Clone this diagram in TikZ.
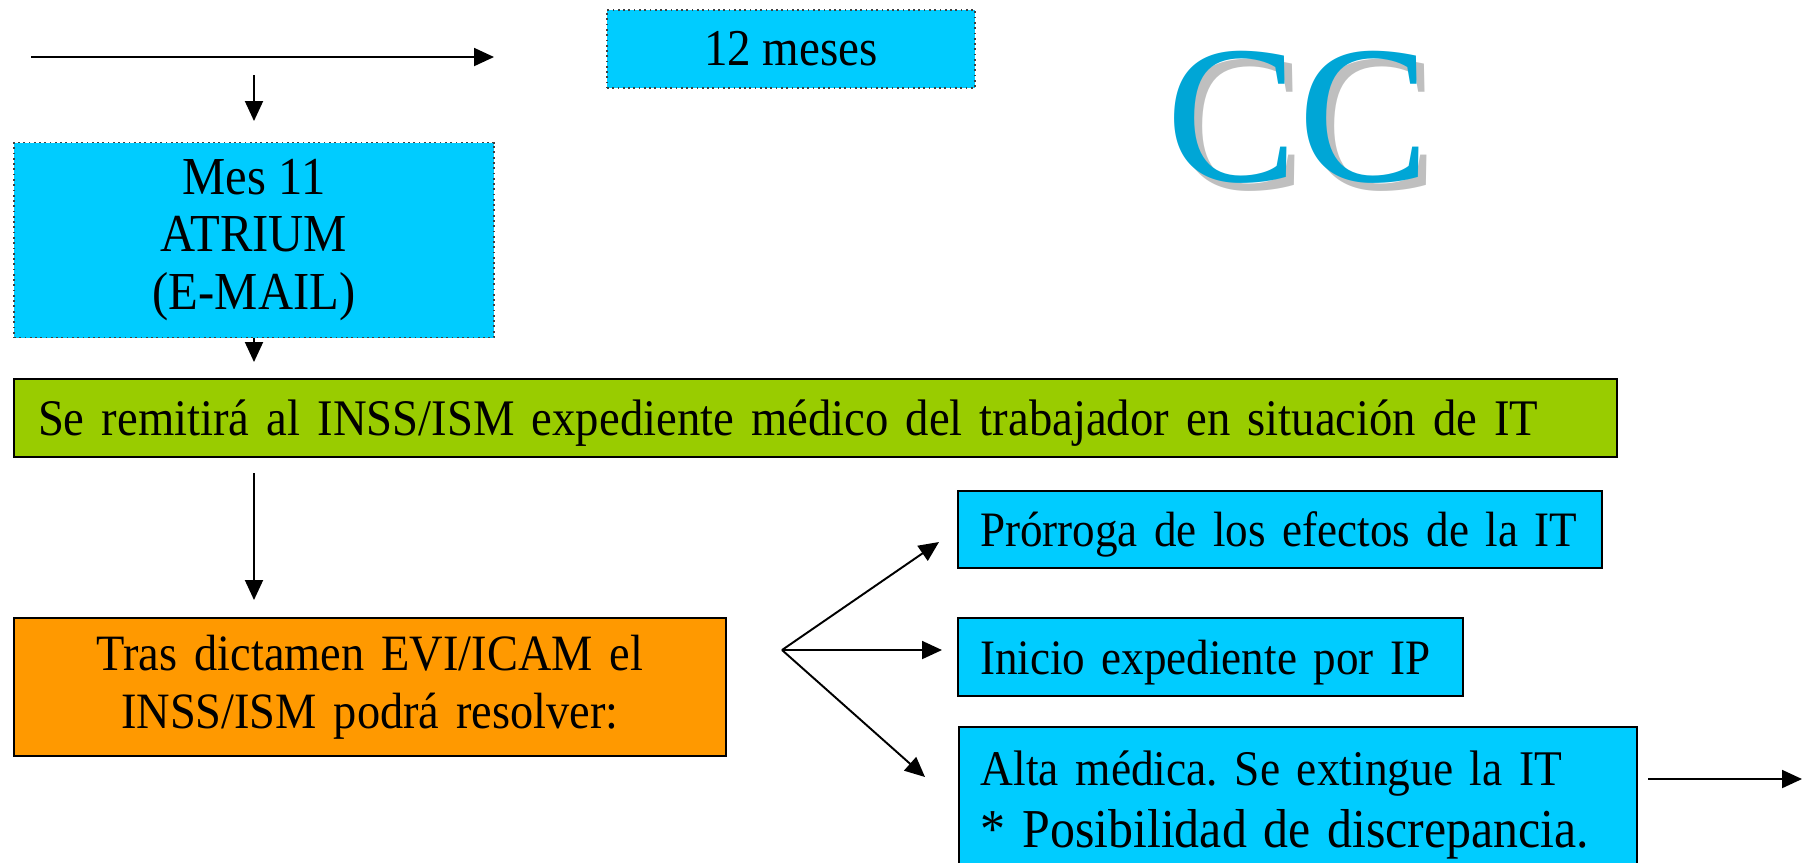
\documentclass[tikz,border=0pt]{standalone}
\usepackage{fontspec}
\setmainfont{Liberation Serif}[FakeStretch=0.91]
\newfontfamily\logofont{Liberation Serif}
\usepackage{xcolor}
\usepackage{tikz}
\usetikzlibrary{positioning,%
  arrows.meta,%
  calc}

\definecolor{celeste}{HTML}{00CCFF}
\definecolor{verde}{HTML}{99CC00}
\definecolor{naranja}{HTML}{FF9900}
\definecolor{azulcc}{HTML}{00A6D6}

\frenchspacing
\begin{document}
\begin{tikzpicture}
                    [bx/.style={rectangle, inner sep=0pt,
                        draw=black, line width=0.5pt,
                        font=\fontsize{14.1}{16.2}\selectfont},
                    pt/.style={bx, fill=celeste,
                        draw=black!75, densely dotted},
                    az/.style={bx, fill=celeste,
                        inner xsep=0.22cm, align=left},
                    vd/.style={bx, fill=verde,
                        inner xsep=0.24cm, align=left},
                    nj/.style={bx, fill=naranja, align=center},
                    flecha/.style={-{Triangle[length=0.2cm,width=0.18cm]},
                        line width=0.55pt}]

                    \clip (0,0) rectangle (18.02,-8.62);

                    % cajas
                    \node[pt, minimum width=3.68cm, minimum height=0.78cm,
                        font=\fontsize{14.7}{16.2}\selectfont] at (7.91,-0.49)
                        (meses) {12 meses};
                    \node[pt, minimum width=4.80cm, minimum height=1.95cm, align=center,
                        font=\fontsize{15.2}{16.4}\selectfont] at (2.54,-2.40)
                        (mes) {Mes 11\\ATRIUM\\(E-MAIL)};
                    \node[vd, text width=15.55cm, minimum height=0.78cm, text depth=0pt,
                        font=\fontsize{14.6}{16.2}\selectfont] at (8.155,-4.18)
                        (remite) {Se remitirá al INSS/ISM expediente médico del trabajador en situación de IT};
                    \node[nj, text width=7.12cm, minimum height=1.38cm,
                        font=\fontsize{14.5}{16.4}\selectfont] at (3.70,-6.87)
                        (dictamen) {Tras dictamen EVI/ICAM el\\INSS/ISM podrá resolver:};
                    \node[az, text width=6.00cm, minimum height=0.77cm, text depth=0pt] at (12.80,-5.295)
                        (prorroga) {Prórroga de los efectos de la IT};
                    \node[az, text width=4.61cm, minimum height=0.78cm, text depth=0pt] at (12.105,-6.57)
                        (inicio) {Inicio expediente por IP};
                    \node[az, text width=6.34cm, inner ysep=0.24cm, anchor=north west,
                        font=\fontsize{14.2}{17.6}\selectfont] at (9.58,-7.26)
                        (alta) {Alta médica. Se extingue la IT\\
                        {\fontsize{15.6}{17.6}\selectfont * Posibilidad de discrepancia.}};

                    % logo
                    \node[text=black!25, font=\logofont\fontsize{56}{56}\selectfont] at (13.06,-1.25)
                        (ccsombra) {CC};
                    \node[text=azulcc, font=\logofont\fontsize{56}{56}\selectfont] at (12.98,-1.17)
                        (cc) {CC};

                    % flechas
                    \coordinate (t0) at (0.31,-0.57);
                    \coordinate (t1) at (4.94,-0.57);
                    \coordinate (d0) at (2.54,-0.75);
                    \coordinate (d1) at (2.54,-1.21);
                    \coordinate (d2) at (2.54,-3.62);
                    \coordinate (d3) at (2.54,-4.73);
                    \coordinate (d4) at (2.54,-6.00);
                    \coordinate (bif) at (7.82,-6.50);
                    \coordinate (p1) at (9.39,-5.42);
                    \coordinate (p2) at (9.42,-6.50);
                    \coordinate (p3) at (9.25,-7.77);
                    \coordinate (s0) at (16.48,-7.79);
                    \coordinate (s1) at (18.02,-7.79);

                    \draw[flecha] (t0) -- (t1);
                    \draw[flecha] (d0) -- (d1);
                    \draw[flecha] (mes.south) -- (d2);
                    \draw[flecha] (d3) -- (d4);
                    \draw[flecha] (bif) -- (p1);
                    \draw[flecha] (bif) -- (p2);
                    \draw[flecha] (bif) -- (p3);
                    \draw[flecha] (s0) -- (s1);
                \end{tikzpicture}
\end{document}
